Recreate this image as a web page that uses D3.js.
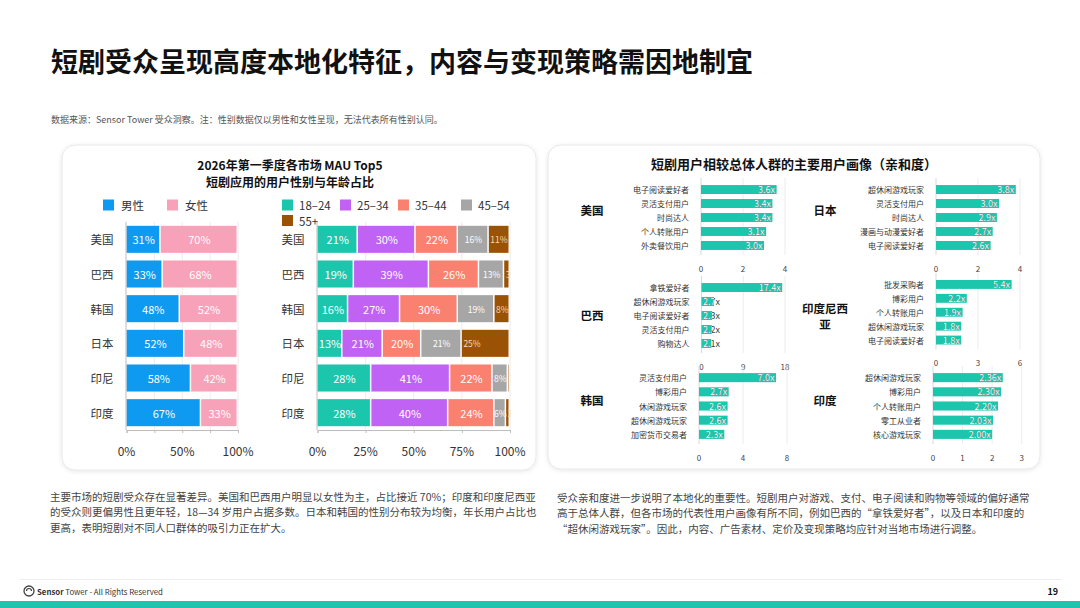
<!DOCTYPE html>
<html>
<head>
<meta charset="utf-8">
<script src="https://d3js.org/d3.v7.min.js"></script>
<style>
  body { margin: 0; background: #fff; }
  text { font-family: "Noto Sans CJK SC", "Noto Sans", sans-serif; }
</style>
</head>
<body>
<script>
  // gender share by market (%)
  var markets = ["美国", "巴西", "韩国", "日本", "印尼", "印度"];
  var maleShare = [31, 33, 48, 52, 58, 67];
  var femaleShare = [70, 68, 52, 48, 42, 33];

  // age share by market (%)
  var ageGroups = ["18–24", "25–34", "35–44", "45–54", "55+"];
  var age18_24 = [21, 19, 16, 13, 28, 28];
  var age25_34 = [30, 39, 27, 21, 41, 40];
  var age35_44 = [22, 26, 30, 20, 22, 24];
  var age45_54 = [16, 13, 19, 21, 8, 6];
  var age55plus = [11, 3, 8, 25, 1, 2];
  var pctTicks = [0, 0.25, 0.5, 0.75, 1];

  // affinity index vs. general population
  var usSegments = ["电子阅读爱好者", "灵活支付用户", "时尚达人", "个人转账用户", "外卖餐饮用户"];
  var usAffinity = [3.6, 3.4, 3.4, 3.1, 3.0];
  var usTicks = [0, 2, 4];
  var jpSegments = ["超休闲游戏玩家", "灵活支付用户", "时尚达人", "漫画与动漫爱好者", "电子阅读爱好者"];
  var jpAffinity = [3.8, 3.0, 2.9, 2.7, 2.6];
  var jpTicks = [0, 2, 4];
  var brSegments = ["拿铁爱好者", "超休闲游戏玩家", "电子阅读爱好者", "灵活支付用户", "购物达人"];
  var brAffinity = [17.4, 2.7, 2.3, 2.2, 2.1];
  var brTicks = [0, 9, 18];
  var idSegments = ["批发采购者", "博彩用户", "个人转账用户", "超休闲游戏玩家", "电子阅读爱好者"];
  var idAffinity = [5.4, 2.2, 1.9, 1.8, 1.8];
  var idTicks = [0, 3, 6];
  var krSegments = ["灵活支付用户", "博彩用户", "休闲游戏玩家", "超休闲游戏玩家", "加密货币交易者"];
  var krAffinity = [7.0, 2.7, 2.6, 2.6, 2.3];
  var krTicks = [0, 4, 8];
  var inSegments = ["超休闲游戏玩家", "博彩用户", "个人转账用户", "零工从业者", "核心游戏玩家"];
  var inAffinity = [2.36, 2.30, 2.20, 2.03, 2.00];
  var inTicks = [0, 1, 2, 3];

  var teal = "#1cc6ad";
  var genderColors = ["#0f9af2", "#f8a2b9"];
  var ageColors = ["#1cc6ad", "#c062f4", "#fa8070", "#a6a6a6", "#9a5205"];
  var dark = "#333";

  var svg = d3.select("body").append("svg")
    .attr("width", 1080)
    .attr("height", 608);

  var defs = svg.append("defs");
  var shadow = defs.append("filter").attr("id", "shadow")
    .attr("x", "-5%").attr("y", "-5%").attr("width", "110%").attr("height", "115%");
  shadow.append("feDropShadow").attr("dx", 0).attr("dy", 1)
    .attr("stdDeviation", 2).attr("flood-color", "#000").attr("flood-opacity", 0.10);

  // page title + source note
  svg.append("text").attr("x", 51).attr("y", 72)
    .style("font-size", "27px").style("font-weight", 700).style("fill", "#111")
    .text("短剧受众呈现高度本地化特征，内容与变现策略需因地制宜");
  svg.append("text").attr("x", 51).attr("y", 123)
    .style("font-size", "9px").style("fill", "#555")
    .text("数据来源：Sensor Tower 受众洞察。注：性别数据仅以男性和女性呈现，无法代表所有性别认同。");

  // cards
  svg.append("rect").attr("x", 62).attr("y", 145).attr("width", 474).attr("height", 325)
    .attr("rx", 13).style("fill", "#fff").style("stroke", "#e8e8e8").attr("filter", "url(#shadow)");
  svg.append("rect").attr("x", 548).attr("y", 145).attr("width", 492).attr("height", 324)
    .attr("rx", 13).style("fill", "#fff").style("stroke", "#e8e8e8").attr("filter", "url(#shadow)");

  // ---------- left card ----------
  svg.append("text").attr("x", 290).attr("y", 164).attr("text-anchor", "middle")
    .attr("dominant-baseline", "central")
    .style("font-size", "12px").style("font-weight", 700).style("fill", "#111")
    .text("2026年第一季度各市场 MAU Top5");
  svg.append("text").attr("x", 290).attr("y", 181).attr("text-anchor", "middle")
    .attr("dominant-baseline", "central")
    .style("font-size", "12px").style("font-weight", 700).style("fill", "#111")
    .text("短剧应用的用户性别与年龄占比");

  // legends
  var genderLegend = [[103, 205, "男性"], [167, 205, "女性"]];
  genderLegend.forEach(function(d, i) {
    svg.append("rect").attr("x", d[0]).attr("y", d[1] - 5.5).attr("width", 11).attr("height", 11)
      .style("fill", genderColors[i]);
    svg.append("text").attr("x", d[0] + 18).attr("y", d[1]).attr("dominant-baseline", "central")
      .style("font-size", "11.5px").style("fill", dark).text(d[2]);
  });
  var ageLegend = [[282, 205], [340, 205], [398, 205], [461, 205], [282, 220.5]];
  ageLegend.forEach(function(d, i) {
    svg.append("rect").attr("x", d[0]).attr("y", d[1] - 5.5).attr("width", 11).attr("height", 11)
      .style("fill", ageColors[i]);
    svg.append("text").attr("x", d[0] + 17).attr("y", d[1]).attr("dominant-baseline", "central")
      .style("font-size", "11.5px").style("fill", dark).text(ageGroups[i]);
  });

  var yBand = d3.scaleBand().domain(markets).range([222, 430]).paddingInner(0.22).paddingOuter(0.11);

  function stackedChart(x0, x1, keys, cols, colors, labelLayout, tickLabels, clipId) {
    var x = d3.scaleLinear().domain([0, 1]).range([x0, x1]);
    var rows = markets.map(function(m, i) {
      var r = { market: m };
      keys.forEach(function(k, j) { r[k] = cols[j][i]; });
      return r;
    });
    var series = d3.stack().keys(keys).offset(d3.stackOffsetExpand)(rows);
    var g = svg.append("g");

    // grid
    g.selectAll(".grid").data(pctTicks.slice(1)).enter().append("line")
      .attr("x1", function(d) { return x(d); }).attr("x2", function(d) { return x(d); })
      .attr("y1", 222).attr("y2", 430)
      .style("stroke", "#ececec").style("stroke-width", 1);

    // category labels
    g.selectAll(".cat").data(markets).enter().append("text")
      .attr("x", x0 - 13).attr("y", function(d) { return yBand(d) + yBand.bandwidth() / 2; })
      .attr("text-anchor", "end").attr("dominant-baseline", "central")
      .style("font-size", "11.5px").style("fill", dark).text(function(d) { return d; });

    var layers = g.selectAll(".layer").data(series).enter().append("g")
      .style("fill", function(d, i) { return colors[i]; });
    layers.selectAll("rect").data(function(d) { return d; }).enter().append("rect")
      .attr("x", function(d) { return x(d[0]); })
      .attr("y", function(d) { return yBand(d.data.market); })
      .attr("width", function(d) { return Math.max(0, x(d[1]) - x(d[0]) - 1.5); })
      .attr("height", yBand.bandwidth());

    defs.append("clipPath").attr("id", clipId).append("rect")
      .attr("x", x0).attr("y", 215).attr("width", x1 - x0 + 1).attr("height", 220);
    var lab = g.append("g").attr("clip-path", "url(#" + clipId + ")");
    series.forEach(function(s, si) {
      var lay = labelLayout[si];
      lab.selectAll(".v" + si).data(s).enter().append("text")
        .attr("x", function(d) {
          return lay.anchor === "start" ? x(d[0]) + 1.5 : (x(d[0]) + x(d[1])) / 2;
        })
        .attr("y", function(d) { return yBand(d.data.market) + yBand.bandwidth() / 2; })
        .attr("text-anchor", lay.anchor).attr("dominant-baseline", "central")
        .style("font-size", lay.size + "px").style("fill", lay.color)
        .text(function(d) { return d.data[s.key] + "%"; });
    });

    // axes
    var ax = d3.axisBottom(x).tickValues(pctTicks).tickSize(3).tickFormat("");
    var axG = g.append("g").attr("transform", "translate(0,430)").call(ax);
    axG.select(".domain").style("stroke", "#bdbdbd");
    axG.selectAll(".tick line").style("stroke", "#bdbdbd");
    g.append("line").attr("x1", x0 - 0.5).attr("x2", x0 - 0.5).attr("y1", 222).attr("y2", 430)
      .style("stroke", "#bdbdbd");
    g.selectAll(".tl").data(tickLabels).enter().append("text")
      .attr("x", function(d) { return x(d); }).attr("y", 450)
      .attr("text-anchor", "middle").attr("dominant-baseline", "central")
      .style("font-size", "12px").style("fill", dark)
      .text(function(d) { return Math.round(d * 100) + "%"; });
  }

  stackedChart(126.5, 238, ["male", "female"], [maleShare, femaleShare], genderColors,
    [{ anchor: "middle", size: 11, color: "#fff" }, { anchor: "middle", size: 11, color: "#fff" }],
    [0, 0.5, 1], "clipG");
  stackedChart(317.5, 510, ["a1", "a2", "a3", "a4", "a5"],
    [age18_24, age25_34, age35_44, age45_54, age55plus], ageColors,
    [{ anchor: "middle", size: 11, color: "#fff" }, { anchor: "middle", size: 11, color: "#fff" },
     { anchor: "middle", size: 11, color: "#fff" }, { anchor: "middle", size: 8.5, color: "#fff" },
     { anchor: "start", size: 8.5, color: "#f6dcb4" }],
    pctTicks, "clipA");

  // ---------- right card ----------
  svg.append("text").attr("x", 794).attr("y", 163).attr("text-anchor", "middle")
    .attr("dominant-baseline", "central")
    .style("font-size", "13px").style("font-weight", 700).style("fill", "#111")
    .text("短剧用户相较总体人群的主要用户画像（亲和度）");

  var panels = [
    { name: ["美国"], seg: usSegments, val: usAffinity, ticks: usTicks, x0: 701, w: 84, y0: 180, h: 75, lx: 592, ly: 210, dec: 1 },
    { name: ["日本"], seg: jpSegments, val: jpAffinity, ticks: jpTicks, x0: 936, w: 84, y0: 180, h: 75, lx: 825, ly: 210, dec: 1 },
    { name: ["巴西"], seg: brSegments, val: brAffinity, ticks: brTicks, x0: 701.5, w: 83.5, y0: 278, h: 75, lx: 592, ly: 315, dec: 1 },
    { name: ["印度尼西", "亚"], seg: idSegments, val: idAffinity, ticks: idTicks, x0: 936, w: 84, y0: 275, h: 74.5, lx: 825, ly: 307.5, dec: 1 },
    { name: ["韩国"], seg: krSegments, val: krAffinity, ticks: krTicks, x0: 699, w: 88, y0: 368, h: 76, lx: 592, ly: 400, dec: 1 },
    { name: ["印度"], seg: inSegments, val: inAffinity, ticks: inTicks, x0: 933, w: 88.7, y0: 368, h: 76, lx: 825, ly: 400, dec: 2 }
  ];

  panels.forEach(function(p, pi) {
    var g = svg.append("g");
    var x = d3.scaleLinear().domain([0, d3.max(p.ticks)]).range([p.x0, p.x0 + p.w]);
    var y = d3.scaleBand().domain(p.seg).range([p.y0, p.y0 + p.h]).padding(0.36);

    // country name (wrapped lines)
    p.name.forEach(function(n, i) {
      g.append("text").attr("x", p.lx).attr("y", p.ly + i * 16.5)
        .attr("text-anchor", "middle").attr("dominant-baseline", "central")
        .style("font-size", "11.5px").style("font-weight", 700).style("fill", "#111").text(n);
    });

    g.selectAll(".grid").data(p.ticks).enter().append("line")
      .attr("x1", function(d) { return x(d); }).attr("x2", function(d) { return x(d); })
      .attr("y1", p.y0 - 2).attr("y2", p.y0 + p.h)
      .style("stroke", function(d) { return d === 0 ? "#d9d9d9" : "#ececec"; });

    g.selectAll(".seg").data(p.seg).enter().append("text")
      .attr("x", p.x0 - 12).attr("y", function(d) { return y(d) + y.bandwidth() / 2; })
      .attr("text-anchor", "end").attr("dominant-baseline", "central")
      .style("font-size", "8px").style("fill", dark).text(function(d) { return d; });

    g.selectAll(".tk").data(p.ticks).enter().append("text")
      .attr("x", function(d) { return x(d); }).attr("y", p.y0 + p.h + 13)
      .attr("text-anchor", "middle").attr("dominant-baseline", "central")
      .style("font-size", "8px").style("fill", "#444").text(function(d) { return d; });

    p.seg.forEach(function(s, i) {
      var v = p.val[i];
      var bx = x(0), bw = x(v) - x(0), by = y(s), bh = y.bandwidth();
      var cid = "bc" + pi + "_" + i;
      g.append("rect").attr("x", bx).attr("y", by).attr("width", bw).attr("height", bh)
        .style("fill", teal);
      defs.append("clipPath").attr("id", cid).append("rect")
        .attr("x", bx).attr("y", by).attr("width", bw).attr("height", bh);
      var label = v.toFixed(p.dec) + "x";
      var t = g.append("text").attr("y", by + bh / 2).attr("dominant-baseline", "central")
        .style("font-size", "9px").style("fill", "#444").text(label);
      var tw = t.node().getComputedTextLength();
      var tx, anchor;
      if (tw + 3 > bw) { tx = bx + 1.5; anchor = "start"; } else { tx = bx + bw - 1.5; anchor = "end"; }
      t.attr("x", tx).attr("text-anchor", anchor);
      g.append("text").attr("x", tx).attr("y", by + bh / 2).attr("text-anchor", anchor)
        .attr("dominant-baseline", "central").attr("clip-path", "url(#" + cid + ")")
        .style("font-size", "9px").style("fill", "#fff").text(label);
    });
  });

  // ---------- commentary ----------
  var leftText = [
    "主要市场的短剧受众存在显著差异。美国和巴西用户明显以女性为主，占比接近 70%；印度和印度尼西亚",
    "的受众则更偏男性且更年轻，18—34 岁用户占据多数。日本和韩国的性别分布较为均衡，年长用户占比也",
    "更高，表明短剧对不同人口群体的吸引力正在扩大。"
  ];
  var rightText = [
    "受众亲和度进一步说明了本地化的重要性。短剧用户对游戏、支付、电子阅读和购物等领域的偏好通常",
    "高于总体人群，但各市场的代表性用户画像有所不同，例如巴西的“拿铁爱好者”，以及日本和印度的",
    "“超休闲游戏玩家”。因此，内容、广告素材、定价及变现策略均应针对当地市场进行调整。"
  ];
  svg.selectAll(".lt").data(leftText).enter().append("text")
    .attr("x", 50).attr("y", function(d, i) { return 496 + i * 15.5; })
    .attr("dominant-baseline", "central")
    .style("font-size", "10.5px").style("fill", "#444").text(function(d) { return d; });
  svg.selectAll(".rt").data(rightText).enter().append("text")
    .attr("x", 557).attr("y", function(d, i) { return 497 + i * 15.5; })
    .attr("dominant-baseline", "central")
    .style("font-size", "10.5px").style("fill", "#444").text(function(d) { return d; });

  // ---------- footer ----------
  svg.append("line").attr("x1", 20).attr("x2", 1062).attr("y1", 579.5).attr("y2", 579.5)
    .style("stroke", "#eeeeee");
  svg.append("circle").attr("cx", 29).attr("cy", 591).attr("r", 5)
    .style("fill", "none").style("stroke", "#444").style("stroke-width", 1.3);
  svg.append("path").attr("d", "M26.5,591 A2.5,2.5 0 0 1 31.5,591")
    .style("fill", "none").style("stroke", "#444").style("stroke-width", 1.2);
  var foot = svg.append("text").attr("x", 37).attr("y", 591).attr("dominant-baseline", "central")
    .style("font-size", "7.8px").style("fill", "#333");
  foot.append("tspan").style("font-weight", 700).text("Sensor");
  foot.append("tspan").text(" Tower - All Rights Reserved");
  svg.append("text").attr("x", 1058).attr("y", 591).attr("text-anchor", "end")
    .attr("dominant-baseline", "central")
    .style("font-size", "9px").style("font-weight", 700).style("fill", "#111").text("19");
  svg.append("rect").attr("x", 0).attr("y", 601).attr("width", 1080).attr("height", 7)
    .style("fill", teal);
</script>
</body>
</html>
